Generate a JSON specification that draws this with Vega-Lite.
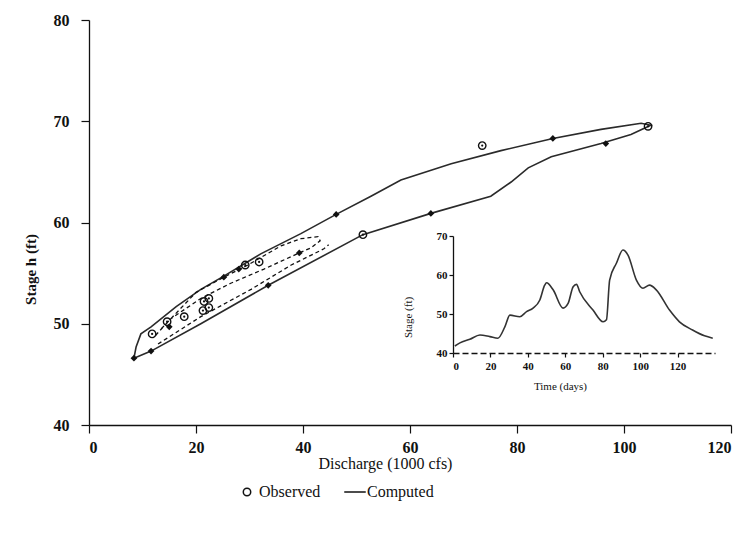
{
  "$schema": "https://vega.github.io/schema/vega-lite/v6.json",
  "width": 642,
  "height": 405,
  "autosize": {"type": "none"},
  "padding": {"left": 89, "top": 20, "right": 14, "bottom": 108},
  "background": "white",
  "config": {
    "view": {"stroke": null},
    "font": "Liberation Serif",
    "axis": {"grid": false, "domainColor": "#111", "tickColor": "#111", "labelColor": "#111", "titleColor": "#111", "labelFont": "Liberation Serif", "titleFont": "Liberation Serif", "titleFontWeight": "normal", "domainWidth": 1.3, "tickWidth": 1.2},
    "legend": {"labelFont": "Liberation Serif", "labelFontSize": 16, "labelColor": "#111", "symbolStrokeColor": "#111", "symbolStrokeWidth": 1.5, "columnPadding": 20, "symbolSize": 55}
  },
  "datasets": {
    "computed": [
      {"seg": "big", "ord": 1, "Q": 8.4, "h": 46.6},
      {"seg": "big", "ord": 2, "Q": 11.6, "h": 47.3},
      {"seg": "big", "ord": 3, "Q": 20.9, "h": 50.0},
      {"seg": "big", "ord": 4, "Q": 33.5, "h": 53.8},
      {"seg": "big", "ord": 5, "Q": 51.2, "h": 58.8},
      {"seg": "big", "ord": 6, "Q": 63.9, "h": 60.9},
      {"seg": "big", "ord": 7, "Q": 75.1, "h": 62.6},
      {"seg": "big", "ord": 8, "Q": 78.9, "h": 64.0},
      {"seg": "big", "ord": 9, "Q": 82.1, "h": 65.4},
      {"seg": "big", "ord": 10, "Q": 86.4, "h": 66.5},
      {"seg": "big", "ord": 11, "Q": 95.7, "h": 67.8},
      {"seg": "big", "ord": 12, "Q": 101.3, "h": 68.7},
      {"seg": "big", "ord": 13, "Q": 105.0, "h": 69.6},
      {"seg": "big", "ord": 14, "Q": 103.2, "h": 69.8},
      {"seg": "big", "ord": 15, "Q": 95.7, "h": 69.2},
      {"seg": "big", "ord": 16, "Q": 86.7, "h": 68.3},
      {"seg": "big", "ord": 17, "Q": 77.0, "h": 67.1},
      {"seg": "big", "ord": 18, "Q": 67.7, "h": 65.8},
      {"seg": "big", "ord": 19, "Q": 58.3, "h": 64.2},
      {"seg": "big", "ord": 20, "Q": 52.7, "h": 62.6},
      {"seg": "big", "ord": 21, "Q": 46.2, "h": 60.8},
      {"seg": "big", "ord": 22, "Q": 39.6, "h": 58.9},
      {"seg": "big", "ord": 23, "Q": 32.1, "h": 56.9},
      {"seg": "big", "ord": 24, "Q": 25.2, "h": 54.7},
      {"seg": "big", "ord": 25, "Q": 20.9, "h": 53.4},
      {"seg": "big", "ord": 26, "Q": 16.3, "h": 51.7},
      {"seg": "big", "ord": 27, "Q": 11.6, "h": 49.7},
      {"seg": "big", "ord": 28, "Q": 9.7, "h": 49.0},
      {"seg": "big", "ord": 29, "Q": 8.8, "h": 47.7},
      {"seg": "big", "ord": 30, "Q": 8.4, "h": 46.6},
      {"seg": "in1", "ord": 1, "Q": 13.5, "h": 49.5},
      {"seg": "in1", "ord": 2, "Q": 20.0, "h": 53.1},
      {"seg": "in1", "ord": 3, "Q": 25.2, "h": 54.6},
      {"seg": "in1", "ord": 4, "Q": 29.7, "h": 55.8},
      {"seg": "in1", "ord": 5, "Q": 35.9, "h": 57.7},
      {"seg": "in1", "ord": 6, "Q": 39.6, "h": 58.4},
      {"seg": "in1", "ord": 7, "Q": 42.8, "h": 58.6},
      {"seg": "in1", "ord": 8, "Q": 43.2, "h": 58.2},
      {"seg": "in1", "ord": 9, "Q": 41.5, "h": 57.5},
      {"seg": "in1", "ord": 10, "Q": 39.3, "h": 57.0},
      {"seg": "in1", "ord": 11, "Q": 32.7, "h": 55.4},
      {"seg": "in1", "ord": 12, "Q": 26.5, "h": 54.0},
      {"seg": "in1", "ord": 13, "Q": 20.9, "h": 52.5},
      {"seg": "in1", "ord": 14, "Q": 15.3, "h": 50.5},
      {"seg": "in1", "ord": 15, "Q": 12.0, "h": 48.6},
      {"seg": "in2", "ord": 1, "Q": 12.9, "h": 48.0},
      {"seg": "in2", "ord": 2, "Q": 20.9, "h": 50.7},
      {"seg": "in2", "ord": 3, "Q": 30.3, "h": 53.4},
      {"seg": "in2", "ord": 4, "Q": 37.8, "h": 55.8},
      {"seg": "in2", "ord": 5, "Q": 43.9, "h": 57.4},
      {"seg": "in2", "ord": 6, "Q": 44.8, "h": 57.8}
    ],
    "arrows": [
      {"Q": 8.4, "h": 46.6},
      {"Q": 11.6, "h": 47.3},
      {"Q": 15.0, "h": 49.7},
      {"Q": 25.2, "h": 54.6},
      {"Q": 28.0, "h": 55.4},
      {"Q": 33.5, "h": 53.8},
      {"Q": 39.3, "h": 57.0},
      {"Q": 46.2, "h": 60.8},
      {"Q": 63.9, "h": 60.9},
      {"Q": 86.7, "h": 68.3},
      {"Q": 96.6, "h": 67.8}
    ],
    "observed": [
      {"kind": "Observed", "Q": 11.8, "h": 49.0},
      {"kind": "Observed", "Q": 14.6, "h": 50.2},
      {"kind": "Observed", "Q": 17.8, "h": 50.7},
      {"kind": "Observed", "Q": 21.5, "h": 52.2},
      {"kind": "Observed", "Q": 22.4, "h": 52.5},
      {"kind": "Observed", "Q": 21.3, "h": 51.3},
      {"kind": "Observed", "Q": 22.4, "h": 51.6},
      {"kind": "Observed", "Q": 29.2, "h": 55.8},
      {"kind": "Observed", "Q": 31.8, "h": 56.1},
      {"kind": "Observed", "Q": 51.2, "h": 58.8},
      {"kind": "Observed", "Q": 73.5, "h": 67.6},
      {"kind": "Observed", "Q": 104.5, "h": 69.5}
    ],
    "inset": [
      {"day": 1, "stage": 41.8},
      {"day": 3.7, "stage": 42.6},
      {"day": 9, "stage": 43.5},
      {"day": 14.4, "stage": 44.6},
      {"day": 19.7, "stage": 44.2},
      {"day": 24, "stage": 43.8},
      {"day": 27.7, "stage": 46.7},
      {"day": 30.4, "stage": 49.7},
      {"day": 35.7, "stage": 49.3},
      {"day": 39.3, "stage": 50.6},
      {"day": 42.8, "stage": 51.5},
      {"day": 46.4, "stage": 53.6},
      {"day": 49, "stage": 57.4},
      {"day": 50, "stage": 58},
      {"day": 53.5, "stage": 56.2},
      {"day": 58.8, "stage": 51.5},
      {"day": 61.5, "stage": 52.7},
      {"day": 64.2, "stage": 57},
      {"day": 66, "stage": 57.6},
      {"day": 67.7, "stage": 55.7},
      {"day": 74.8, "stage": 51},
      {"day": 80.2, "stage": 48},
      {"day": 82, "stage": 48.5},
      {"day": 83.7, "stage": 58.7},
      {"day": 87.3, "stage": 63},
      {"day": 90.8, "stage": 66.4},
      {"day": 93.5, "stage": 65.1},
      {"day": 98, "stage": 58.7},
      {"day": 101.5, "stage": 56.6},
      {"day": 105, "stage": 57.4},
      {"day": 108.6, "stage": 56.2},
      {"day": 115.7, "stage": 51},
      {"day": 121, "stage": 48},
      {"day": 128, "stage": 45.9},
      {"day": 134.4, "stage": 44.4},
      {"day": 138.8, "stage": 43.8}
    ]
  },
  "layer": [
    {
      "layer": [
        {
          "data": {"name": "computed"},
          "transform": [{"filter": "datum.seg == 'big'"}],
          "mark": {"type": "line", "color": "#2a2a2a", "strokeWidth": 1.6},
          "encoding": {
            "x": {"field": "Q", "type": "quantitative", "scale": {"domain": [0, 120], "nice": false, "zero": false},
              "axis": {"values": [0, 20, 40, 60, 80, 100, 120], "tickSize": 8, "labelPadding": 6, "labelFontSize": 16, "labelFontWeight": "bold", "title": "Discharge (1000 cfs)", "titleFontSize": 16, "titleX": 296, "titleY": 38, "titleAlign": "center", "titleBaseline": "middle", "titleAnchor": null}},
            "y": {"field": "h", "type": "quantitative", "scale": {"domain": [40, 80], "nice": false, "zero": false},
              "axis": {"values": [40, 50, 60, 70, 80], "tickSize": 8, "labelPadding": 12, "labelFontSize": 16, "labelFontWeight": "bold", "title": "Stage h (ft)", "titleFontSize": 15, "titleFontWeight": "bold", "titleX": -59, "titleY": 249, "titleAlign": "center", "titleBaseline": "middle", "titleAngle": -90}},
            "detail": {"field": "seg"},
            "order": {"field": "ord", "type": "quantitative"}
          }
        },
        {
          "data": {"name": "computed"},
          "transform": [{"filter": "datum.seg != 'big'"}],
          "mark": {"type": "line", "color": "#111", "strokeWidth": 1.3, "strokeDash": [4, 3]},
          "encoding": {
            "x": {"field": "Q", "type": "quantitative"},
            "y": {"field": "h", "type": "quantitative"},
            "detail": {"field": "seg"},
            "order": {"field": "ord", "type": "quantitative"}
          }
        },
        {
          "data": {"name": "arrows"},
          "mark": {"type": "point", "shape": "diamond", "filled": true, "color": "#111", "size": 45, "opacity": 1},
          "encoding": {
            "x": {"field": "Q", "type": "quantitative"},
            "y": {"field": "h", "type": "quantitative"}
          }
        },
        {
          "data": {"name": "observed"},
          "mark": {"type": "point", "filled": false, "color": "#111", "strokeWidth": 1.4, "opacity": 1, "size": 55},
          "encoding": {
            "x": {"field": "Q", "type": "quantitative"},
            "y": {"field": "h", "type": "quantitative"},
            "shape": {"field": "kind", "type": "nominal", "scale": {"domain": ["Observed", "Computed"], "range": ["circle", "M-2.9,0H2.9"]},
              "legend": {"title": null, "orient": "none", "direction": "horizontal", "legendX": 150, "legendY": 464}}
          }
        },
        {
          "data": {"name": "observed"},
          "mark": {"type": "point", "filled": true, "color": "#111", "size": 5, "opacity": 1},
          "encoding": {
            "x": {"field": "Q", "type": "quantitative"},
            "y": {"field": "h", "type": "quantitative"}
          }
        }
      ]
    },
    {
      "data": {"name": "inset"},
      "mark": {"type": "line", "interpolate": "monotone", "color": "#333", "strokeWidth": 1.6},
      "encoding": {
        "x": {"field": "day", "type": "quantitative", "scale": {"domain": [0, 140], "range": [364, 626], "nice": false, "zero": false},
          "axis": {"orient": "bottom", "offset": -72, "values": [0, 20, 40, 60, 80, 100, 120], "tickSize": 4, "labelPadding": 3, "labelFontSize": 11, "labelFontWeight": "bold", "domainDash": [6, 3], "title": "Time (days)", "titleFontSize": 11, "titleX": 471, "titleY": 33, "titleAlign": "center", "titleBaseline": "middle"}},
        "y": {"field": "stage", "type": "quantitative", "scale": {"domain": [40, 70], "range": [333, 216], "nice": false, "zero": false},
          "axis": {"orient": "left", "offset": -364, "values": [40, 50, 60, 70], "tickSize": 4, "labelPadding": 2, "labelFontSize": 11, "labelFontWeight": "bold", "title": "Stage (ft)", "titleFontSize": 11, "titleX": -45, "titleY": 297, "titleAlign": "center", "titleBaseline": "middle", "titleAngle": -90}}
      }
    }
  ],
  "resolve": {"scale": {"x": "independent", "y": "independent"}, "axis": {"x": "independent", "y": "independent"}}
}
